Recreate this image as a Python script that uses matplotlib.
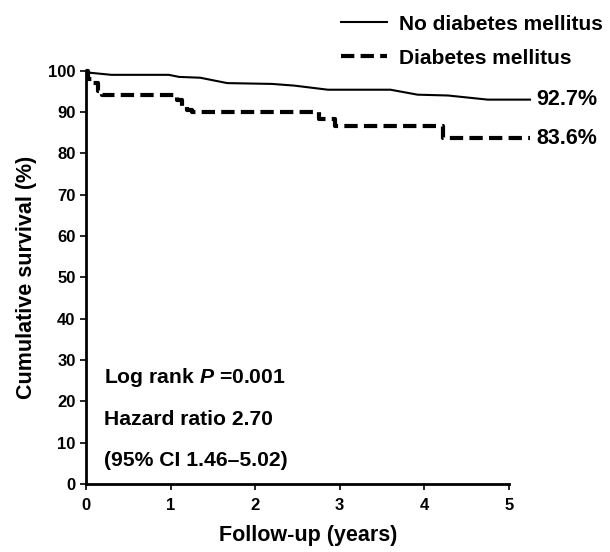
import numpy as np
import matplotlib
matplotlib.use("Agg")
import matplotlib.pyplot as plt

plt.rcParams['font.family'] = ['Liberation Sans', 'DejaVu Sans']
plt.rcParams['font.weight'] = 'bold'
plt.rcParams['mathtext.fontset'] = 'custom'
plt.rcParams['mathtext.bfit'] = 'Liberation Sans:italic:bold'

# Kaplan-Meier curves (years, % surviving)
no_dm_t = [0, 0.05, 0.3, 0.98, 1.1, 1.35, 1.67, 2.2, 2.46, 2.86, 3.6, 3.92, 4.28, 4.75, 5.25]
no_dm_s = [100, 99.5, 99.0, 99.0, 98.5, 98.3, 97.0, 96.8, 96.4, 95.4, 95.4, 94.2, 94.0, 93.0, 93.0]

dm_t = [0, 0.02, 0.08, 0.14, 0.19, 1.03, 1.08, 1.13, 1.2, 1.25, 2.75, 2.95, 4.22, 5.25]
dm_s = [100, 98.0, 97.0, 95.0, 94.0, 94.0, 93.0, 91.5, 90.5, 90.0, 88.4, 86.5, 83.6, 83.6]

end_labels = ["92.7%", "83.6%"]
end_values = [93.0, 83.6]
x_ticks = [0, 1, 2, 3, 4, 5]
y_ticks = [0, 10, 20, 30, 40, 50, 60, 70, 80, 90, 100]

fig = plt.figure(figsize=(6.1, 5.52), dpi=100)
ax = fig.add_axes([86 / 610, 1 - 484 / 552, (530 - 86) / 610, (484 - 70.7) / 552])

ax.plot(no_dm_t, no_dm_s, color='black', lw=1.5, clip_on=False,
        label='No diabetes mellitus')
ax.step(dm_t, dm_s, where='post', color='black', lw=3.0, clip_on=False,
        dashes=(3.2, 1.5), label='Diabetes mellitus')

ax.set_xlim(0, 5.25)
ax.set_ylim(0, 100)
ax.spines['top'].set_visible(False)
ax.spines['right'].set_visible(False)
ax.spines['left'].set_linewidth(2)
ax.spines['bottom'].set_linewidth(2)
ax.spines['bottom'].set_bounds(0, 5)
ax.set_xticks(x_ticks)
ax.set_yticks(y_ticks)
ax.tick_params(direction='out', length=4, width=1.2, labelsize=12)
ax.tick_params(axis='x', pad=6)
for lab in ax.get_xticklabels() + ax.get_yticklabels():
    lab.set_fontweight('bold')

ax.set_xlabel('Follow-up (years)', fontsize=15.5, fontweight='bold', labelpad=9)
ax.set_ylabel('Cumulative survival (%)', fontsize=15.5, fontweight='bold', labelpad=8)

for lab, v in zip(end_labels, end_values):
    ax.text(5.32, v, lab, fontsize=15.5, fontweight='bold', va='center', ha='left',
            clip_on=False)

ax.text(0.21, 25.7, 'Log rank $\\boldsymbol{P}$ =0.001', fontsize=15.2, fontweight='bold', va='center')
ax.text(0.21, 15.5, 'Hazard ratio 2.70', fontsize=15.2, fontweight='bold', va='center')
ax.text(0.21, 5.6, '(95% CI 1.46\u20135.02)', fontsize=15.2, fontweight='bold', va='center')

leg = fig.legend(loc='upper left', bbox_to_anchor=(322 / 610, 1 + 4 / 552), frameon=False,
                 handlelength=2.2, handletextpad=0.6, labelspacing=0.72,
                 prop={'size': 15, 'weight': 'bold'})

fig.savefig('out.png', dpi=100)
